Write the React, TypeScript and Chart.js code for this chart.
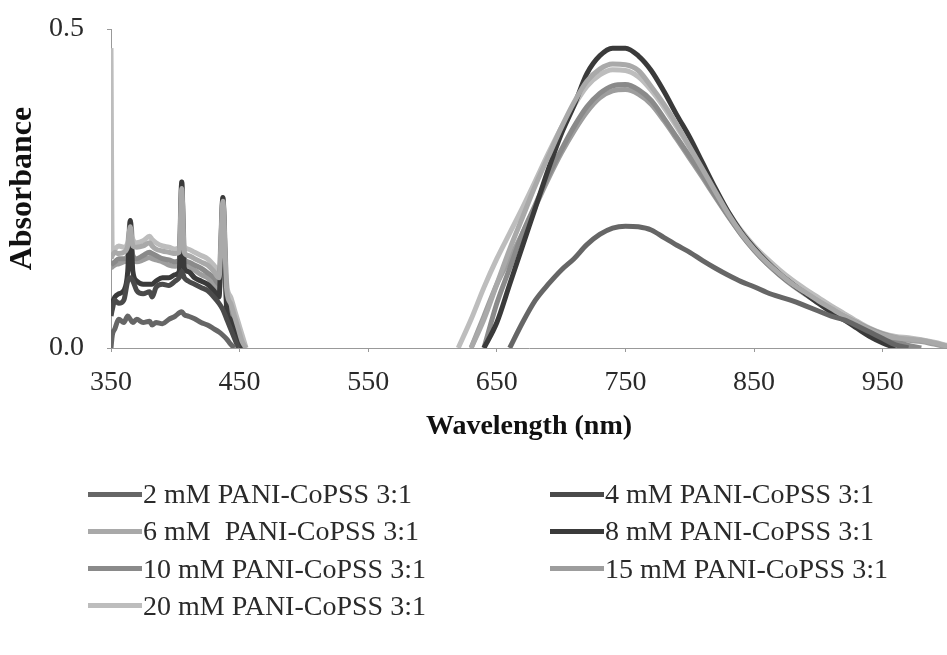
import React, { useEffect, useRef } from "react";
import { Chart, registerables } from "chart.js";

Chart.register(...registerables);

const FONT = "'Liberation Serif', 'Times New Roman', serif";

const seriesLabels = [
  "2 mM PANI-CoPSS 3:1",
  "4 mM PANI-CoPSS 3:1",
  "6 mM  PANI-CoPSS 3:1",
  "8 mM PANI-CoPSS 3:1",
  "10 mM PANI-CoPSS 3:1",
  "15 mM PANI-CoPSS 3:1",
  "20 mM PANI-CoPSS 3:1",
];

const seriesColors = ["#666666", "#4a4a4a", "#a9a9a9", "#3a3a3a", "#8a8a8a", "#9d9d9d", "#bdbdbd"];

const xTickValues = [350, 450, 550, 650, 750, 850, 950];
const yTickValues = [0, 0.5];

// Short-wavelength region (nm)
const leftWavelengths = [350, 351, 353, 356, 360, 363, 365, 367, 370, 375, 380, 382, 385, 390, 395, 400, 403, 405, 407, 410, 415, 420, 425, 430, 434, 437, 440, 443, 446, 449, 452, 455];

// Long-wavelength region (nm)
const rightWavelengths = [600, 610, 620, 630, 640, 650, 660, 670, 680, 690, 700, 710, 720, 730, 740, 750, 760, 770, 780, 790, 800, 810, 820, 830, 840, 850, 860, 870, 880, 890, 900, 910, 920, 930, 940, 950, 960, 970, 980, 990, 1000];

const left2mM = [0.0, 0.02, 0.03, 0.045, 0.04, 0.05, 0.045, 0.04, 0.045, 0.04, 0.042, 0.036, 0.04, 0.038, 0.045, 0.05, 0.055, 0.057, 0.052, 0.05, 0.046, 0.04, 0.036, 0.03, 0.025, 0.02, 0.014, 0.006, 0.0, null, null, null];
const left4mM = [0.05, 0.06, 0.075, 0.07, 0.075, 0.105, 0.11, 0.105, 0.09, 0.085, 0.088, 0.08, 0.095, 0.1, 0.098, 0.105, 0.11, 0.12, 0.11, 0.105, 0.1, 0.095, 0.09, 0.08, 0.07, 0.06, 0.045, 0.03, 0.015, 0.0, null, null];
const left6mM = [0.14, 0.145, 0.15, 0.148, 0.15, 0.16, 0.19, 0.16, 0.158, 0.16, 0.165, 0.16, 0.155, 0.152, 0.15, 0.148, 0.15, 0.25, 0.15, 0.145, 0.14, 0.135, 0.13, 0.12, 0.11, 0.23, 0.09, 0.07, 0.05, 0.03, 0.01, 0.0];
const left8mM = [0.06, 0.07, 0.08, 0.085, 0.09, 0.12, 0.2, 0.12, 0.105, 0.1, 0.1, 0.1, 0.105, 0.11, 0.11, 0.115, 0.12, 0.26, 0.125, 0.12, 0.11, 0.105, 0.1, 0.09, 0.08, 0.236, 0.06, 0.045, 0.03, 0.012, 0.0, null];
const left10mM = [0.13, 0.132, 0.135, 0.14, 0.14, 0.145, 0.17, 0.145, 0.14, 0.145, 0.15, 0.148, 0.145, 0.14, 0.138, 0.135, 0.138, 0.22, 0.14, 0.135, 0.13, 0.125, 0.118, 0.11, 0.1, 0.2, 0.08, 0.06, 0.04, 0.02, 0.0, null];
const left15mM = [0.125, 0.127, 0.13, 0.132, 0.135, 0.14, 0.16, 0.14, 0.135, 0.138, 0.142, 0.14, 0.138, 0.135, 0.13, 0.128, 0.13, 0.2, 0.13, 0.128, 0.122, 0.115, 0.11, 0.1, 0.09, 0.18, 0.07, 0.05, 0.032, 0.015, 0.0, null];
const left20mM = [0.47, 0.15, 0.155, 0.16, 0.158, 0.165, 0.2, 0.17, 0.165, 0.168, 0.175, 0.17, 0.165, 0.16, 0.158, 0.155, 0.158, 0.26, 0.16, 0.155, 0.15, 0.145, 0.14, 0.13, 0.12, 0.236, 0.1, 0.08, 0.06, 0.04, 0.02, 0.0];

const right2mM = [null, null, null, null, null, null, 0.0, 0.04, 0.075, 0.1, 0.122, 0.14, 0.162, 0.178, 0.188, 0.191, 0.19, 0.185, 0.173, 0.161, 0.15, 0.137, 0.125, 0.114, 0.104, 0.096, 0.087, 0.08, 0.074, 0.066, 0.058, 0.05, 0.044, 0.035, 0.025, 0.015, 0.005, 0.0, null, null, null];
const right4mM = [null, null, null, null, null, null, null, null, null, null, null, null, null, null, null, null, null, null, null, null, null, null, null, null, null, null, null, null, null, null, null, null, null, null, null, null, null, null, null, null, null];
const right6mM = [null, null, null, 0.0, 0.045, 0.1, 0.155, 0.205, 0.255, 0.3, 0.345, 0.385, 0.418, 0.437, 0.445, 0.444, 0.435, 0.41, 0.382, 0.35, 0.315, 0.28, 0.245, 0.21, 0.18, 0.155, 0.134, 0.116, 0.1, 0.087, 0.074, 0.062, 0.05, 0.039, 0.028, 0.02, 0.016, 0.014, 0.012, 0.008, 0.003];
const right8mM = [null, null, null, null, 0.0, 0.04, 0.1, 0.16, 0.22, 0.28, 0.335, 0.38, 0.43, 0.458, 0.47, 0.47, 0.458, 0.435, 0.402, 0.365, 0.33, 0.29, 0.25, 0.213, 0.182, 0.157, 0.135, 0.116, 0.1, 0.085, 0.07, 0.056, 0.044, 0.031, 0.018, 0.008, 0.0, null, null, null, null];
const right10mM = [null, null, null, null, 0.0, 0.07, 0.125, 0.18, 0.225, 0.27, 0.31, 0.347, 0.378, 0.399, 0.411, 0.413, 0.405, 0.388, 0.36, 0.33, 0.3, 0.27, 0.238, 0.207, 0.178, 0.153, 0.132, 0.114, 0.098, 0.084, 0.071, 0.059, 0.047, 0.036, 0.025, 0.016, 0.01, 0.004, 0.0, null, null];
const right15mM = [null, null, null, 0.0, 0.05, 0.1, 0.14, 0.18, 0.222, 0.265, 0.305, 0.34, 0.37, 0.392, 0.403, 0.405, 0.398, 0.382, 0.356, 0.327, 0.297, 0.267, 0.236, 0.206, 0.178, 0.154, 0.133, 0.115, 0.1, 0.086, 0.073, 0.061, 0.05, 0.04, 0.03, 0.022, 0.016, 0.012, 0.01, 0.006, 0.002];
const right20mM = [null, null, 0.0, 0.045, 0.095, 0.14, 0.18, 0.22, 0.262, 0.305, 0.345, 0.38, 0.41, 0.428, 0.436, 0.435, 0.425, 0.404, 0.377, 0.346, 0.314, 0.28, 0.246, 0.213, 0.184, 0.16, 0.14, 0.122, 0.106, 0.092, 0.079, 0.066, 0.054, 0.042, 0.031, 0.023, 0.018, 0.016, 0.013, 0.009, 0.004];

const leftValues = [left2mM, left4mM, left6mM, left8mM, left10mM, left15mM, left20mM];
const rightValues = [right2mM, right4mM, right6mM, right8mM, right10mM, right15mM, right20mM];

const legendRows = [0, 0, 1, 1, 2, 2, 3];
const legendCols = [0, 1, 0, 1, 0, 1, 0];

export default function App() {
  const canvasRef = useRef<HTMLCanvasElement | null>(null);

  useEffect(() => {
    const canvas = canvasRef.current;
    if (!canvas) return;
    const datasets = seriesLabels.map((label, i) => ({
      label,
      data: [
        ...leftWavelengths.map((x, j) => ({ x, y: leftValues[i][j] })),
        { x: 525, y: null },
        ...rightWavelengths.map((x, j) => ({ x, y: rightValues[i][j] })),
      ],
      borderColor: seriesColors[i],
      backgroundColor: seriesColors[i],
      borderWidth: 5,
      pointRadius: 0,
      fill: false,
      spanGaps: false,
      cubicInterpolationMode: "monotone" as const,
    }));

    const chart = new Chart(canvas, {
      type: "line",
      data: { datasets: datasets as any },
      options: {
        responsive: false,
        animation: false,
        layout: { padding: { top: 29, left: 0, right: 0, bottom: 0 } },
        plugins: { legend: { display: false }, tooltip: { enabled: false } },
        scales: {
          x: {
            type: "linear",
            min: 350,
            max: 1000,
            afterBuildTicks: (s: any) => {
              s.ticks = xTickValues.map((v) => ({ value: v }));
            },
            afterFit: (s: any) => {
              s.height = 307;
              s.paddingLeft = 0;
              s.paddingRight = 0;
            },
            grid: { display: true, drawOnChartArea: false, drawTicks: true, tickLength: 4, color: "#999" },
            border: { display: true, color: "#999", dash: [3, 2], width: 1 },
            ticks: {
              font: { family: FONT, size: 28 },
              color: "#2a2a2a",
              padding: 14,
              maxRotation: 0,
              autoSkip: false,
              callback: (v: any) => String(v),
            },
            title: {
              display: true,
              text: "Wavelength (nm)",
              font: { family: FONT, size: 28, weight: "bold" },
              color: "#111",
              padding: { top: 0, bottom: 211 },
            },
          },
          y: {
            type: "linear",
            min: 0,
            max: 0.5,
            afterBuildTicks: (s: any) => {
              s.ticks = yTickValues.map((v) => ({ value: v }));
            },
            afterFit: (s: any) => {
              s.width = 111;
              s.paddingTop = 0;
              s.paddingBottom = 0;
            },
            grid: { display: true, drawOnChartArea: false, drawTicks: true, tickLength: 4, color: "#999" },
            border: { display: true, color: "#999", dash: [3, 2], width: 1 },
            ticks: {
              font: { family: FONT, size: 28 },
              color: "#2a2a2a",
              padding: 23,
              callback: (v: any) => Number(v).toFixed(1),
            },
            title: {
              display: true,
              text: "Absorbance",
              font: { family: FONT, size: 32, weight: "bold" },
              color: "#111",
              padding: { top: 4, bottom: 0 },
            },
          },
        },
      },
    });
    return () => chart.destroy();
  }, []);

  return (
    <div style={{ position: "absolute", left: 0, top: 0, width: 947, height: 655, background: "#fff", overflow: "hidden" }}>
      <canvas ref={canvasRef} width={947} height={655} style={{ position: "absolute", left: 0, top: 0 }} />
      {seriesLabels.map((label, i) => {
        const col = legendCols[i];
        const row = legendRows[i];
        const lineLeft = col === 0 ? 88 : 550;
        const cy = 494 + row * 37.3;
        return (
          <div key={label}>
            <div
              style={{
                position: "absolute",
                left: lineLeft,
                top: cy - 2.5,
                width: 54,
                height: 5,
                background: seriesColors[i],
              }}
            />
            <div
              style={{
                position: "absolute",
                left: lineLeft + 55,
                top: cy - 17,
                height: 34,
                lineHeight: "34px",
                fontFamily: FONT,
                fontSize: 28,
                color: "#2a2a2a",
                whiteSpace: "pre",
              }}
            >
              {label}
            </div>
          </div>
        );
      })}
    </div>
  );
}
